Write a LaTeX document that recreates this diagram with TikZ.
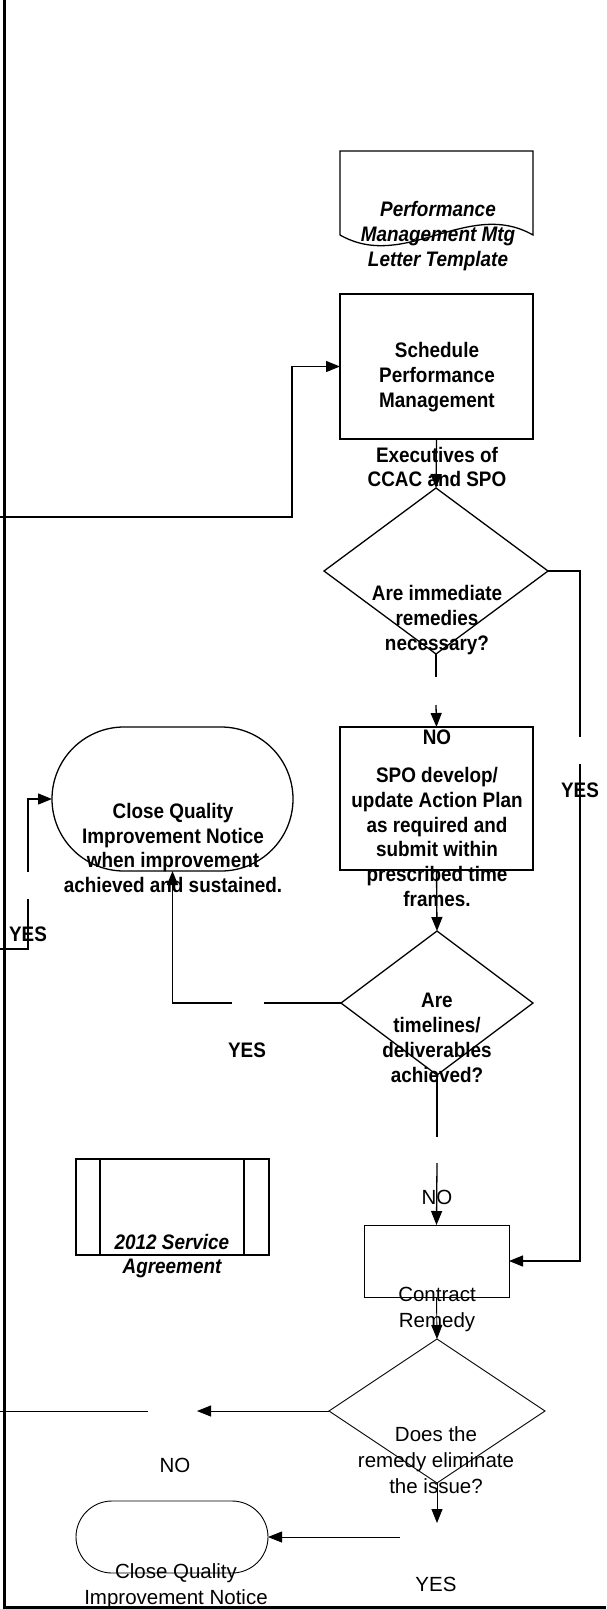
\documentclass[tikz,border=0pt]{standalone}
\usepackage{fontspec}
\setmainfont{Liberation Sans}
\newfontfamily\condfont[FakeStretch=0.9]{Liberation Sans}
\usetikzlibrary{shapes.geometric,shapes.misc,arrows.meta}

\begin{document}
\begin{tikzpicture}[x=1pt,y=-1pt,line width=1.3pt,>={Triangle[length=14pt,width=11pt]}]
    \tikzstyle{procbox}=[rectangle,draw=black,inner sep=0pt,outer sep=0pt]
    \tikzstyle{decision}=[diamond,draw=black,inner sep=0pt,outer sep=0pt]
    \tikzstyle{terminal}=[rounded rectangle,draw=black,inner sep=0pt,outer sep=0pt]
    \tikzstyle{boldtxt}=[align=center,inner sep=0pt,font=\condfont\bfseries\fontsize{21}{24.8}\selectfont]
    \tikzstyle{italtxt}=[align=center,inner sep=0pt,font=\condfont\bfseries\itshape\fontsize{21}{24.8}\selectfont]
    \tikzstyle{plaintxt}=[align=center,inner sep=0pt,font=\fontsize{20.5}{26}\selectfont]
    \tikzstyle{lowline}=[line width=0.9pt]

    \useasboundingbox (0,0) rectangle (606,1609);
    \draw[line width=3pt] (4,0) -- (4,1607) -- (606,1607);

    % letter template (document shape)
    \draw (340,235) -- (340,151) -- (533,151) -- (533,235)
        .. controls (468,198) and (405,272) .. (340,235);
    \node[italtxt] (letter) at (438,236) {Performance\\Management Mtg\\Letter Template};

    \node[procbox,minimum width=193,minimum height=145] (sched) at (436.5,366.5) {};
    \node[boldtxt] (sched-txt) at (437,377) {Schedule\\Performance\\Management};
    \node[boldtxt] (exec) at (437,467) {Executives of\\CCAC and SPO};

    \node[decision,minimum width=224,minimum height=166] (d1) at (436,571) {};
    \node[boldtxt] (d1-txt) at (437,620) {Are immediate\\remedies\\necessary?};

    \node[procbox,minimum width=193,minimum height=143] (sp) at (436.5,798.5) {};
    \node[boldtxt] (sp-txt) at (437,837) {SPO develop/\\update Action Plan\\as required and\\submit within\\prescribed time\\frames.};

    \node[decision,minimum width=192,minimum height=144] (d2) at (437,1003) {};
    \node[boldtxt] (d2-txt) at (437,1038) {Are\\timelines/\\deliverables\\achieved?};

    \node[terminal,minimum width=241,minimum height=144] (close1) at (172.5,799) {};
    \node[boldtxt] (close1-txt) at (173,848) {Close Quality\\Improvement Notice\\when improvement\\achieved and sustained.};

    \node[procbox,minimum width=193,minimum height=96] (svc) at (172.5,1207) {};
    \draw ([xshift=24]svc.north west) -- ([xshift=24]svc.south west);
    \draw ([xshift=-25]svc.north east) -- ([xshift=-25]svc.south east);
    \node[italtxt] (svc-txt) at (172,1256) {2012 Service\\Agreement};

    \node[procbox,lowline,minimum width=145,minimum height=72] (cr) at (436.5,1261) {};
    \node[plaintxt] (cr-txt) at (437,1309) {Contract\\Remedy};

    \node[decision,lowline,minimum width=216,minimum height=144] (d3) at (437,1411) {};
    \node[plaintxt] (d3-txt) at (436,1460) {Does the\\remedy eliminate\\the issue?};

    \node[terminal,lowline,minimum width=192,minimum height=72] (close2) at (172,1537) {};
    \node[plaintxt] (close2-txt) at (176,1586) {Close Quality\\Improvement Notice};

    % loose ends at the left edge
    \coordinate (in1) at (0,517);
    \coordinate (in2) at (0,949);
    \coordinate (out1) at (0,1411);

    \draw[->] (in1) -- (292,517) |- (sched.west);
    \draw[->] (sched.south) -- (d1.north);
    \draw (d1.south) -- (436,677);
    \draw[->] (436,705) -- (sp.north);
    \draw (d1.east) -| (580,737);
    \draw[->] (580,764) |- (cr.east);
    \draw[->] (sp.south) -- (d2.north);
    \draw (d2.west) -- (264,1003);
    \draw[->] (232,1003) -| (close1.south);
    \draw (d2.south) -- (437,1137);
    \draw[->] (437,1163) -- (cr.north);
    \draw (in2) -| (28,899);
    \draw[->] (28,872) |- (close1.west);
    \draw[->,lowline] (cr.south) -- (d3.north);
    \draw[->,lowline] (d3.west) -- (197,1411);
    \draw[lowline] (148,1411) -- (out1);
    \draw[->,lowline] (d3.south) -- (437,1523);
    \draw[->,lowline] (400,1537) -- (close2.east);

    \node[boldtxt] (no1) at (437,737) {NO};
    \node[boldtxt] (yes1) at (580,790) {YES};
    \node[boldtxt] (yes2) at (28,934) {YES};
    \node[boldtxt] (yes3) at (247,1050) {YES};
    \node[plaintxt] (no2) at (437,1197) {NO};
    \node[plaintxt] (no3) at (175,1465) {NO};
    \node[plaintxt] (yes4) at (436,1584) {YES};
\end{tikzpicture}
\end{document}
